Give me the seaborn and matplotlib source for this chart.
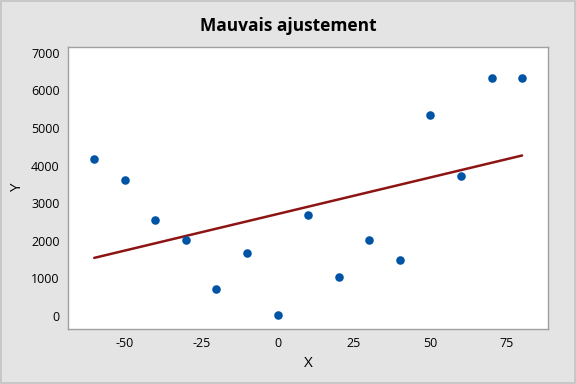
import numpy as np
import pandas as pd
import matplotlib
matplotlib.use("Agg")
import matplotlib.pyplot as plt
import seaborn as sns

x_values = [-60, -50, -40, -30, -20, -10, 0, 10, 20, 30, 40, 50, 60, 70, 80]
y_values = [4175, 3610, 2545, 2013, 710, 1667, 20, 2678, 1029, 2013, 1481, 5338, 3715, 6322, 6322]
x_ticks = [-50, -25, 0, 25, 50, 75]
y_ticks = [0, 1000, 2000, 3000, 4000, 5000, 6000, 7000]

df = pd.DataFrame({"X": x_values, "Y": y_values})

sns.set_style("white")
plt.rcParams["font.family"] = ["Open Sans", "DejaVu Sans"]
plt.rcParams["axes.unicode_minus"] = False
plt.rcParams["text.color"] = "black"
plt.rcParams["axes.labelcolor"] = "black"
plt.rcParams["xtick.labelcolor"] = "black"
plt.rcParams["ytick.labelcolor"] = "black"

fig = plt.figure(figsize=(5.76, 3.84), dpi=100, facecolor="#E4E4E4",
                 edgecolor="#C8C8C8", linewidth=1.5)
ax = fig.add_axes([0.118, 0.143, 0.833, 0.735])

sns.regplot(data=df, x="X", y="Y", ci=None, ax=ax,
            scatter_kws={"color": "#0054A6", "s": 38, "alpha": 1, "linewidths": 0, "zorder": 3},
            line_kws={"color": "#8E1414", "lw": 1.8, "zorder": 2})

ax.set_xlim(-68.6, 88.4)
ax.set_ylim(-346, 7160)
ax.set_xticks(x_ticks)
ax.set_yticks(y_ticks)
ax.tick_params(axis="both", labelsize=9, length=3, color="#A0A0A0", direction="out", pad=3)
for s in ax.spines.values():
    s.set_color("#A0A0A0")
    s.set_linewidth(1)
ax.set_xlabel("X", fontsize=11)
ax.set_ylabel("Y", fontsize=11)
fig.suptitle("Mauvais ajustement", fontsize=12.5, fontweight="bold", y=0.955)

fig.savefig("out.png", dpi=100, facecolor=fig.get_facecolor(), edgecolor=fig.get_edgecolor())
